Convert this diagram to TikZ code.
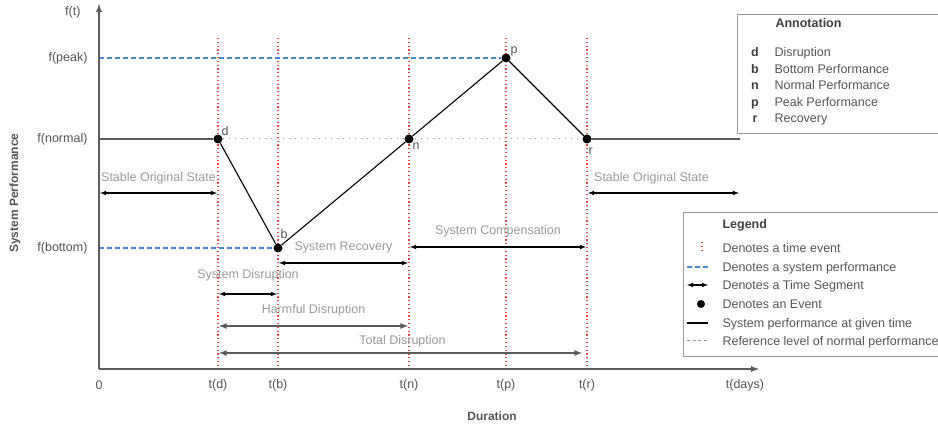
\documentclass[tikz,border=0pt]{standalone}
\usepackage{fontspec}
\setmainfont{Liberation Sans}
\usepackage{xcolor}
\usetikzlibrary{arrows,positioning,backgrounds}
\definecolor{AxisGray}{HTML}{5C5C5C}
\definecolor{TextGray}{HTML}{555555}
\definecolor{SegGray}{HTML}{9A9A9A}
\definecolor{EventRed}{HTML}{E5463E}
\definecolor{LevelBlue}{HTML}{4A86D8}
\tikzset{%
evnode/.style={circle, fill=black, inner sep=0pt, minimum size=9pt},
evletter/.style={text=TextGray, inner sep=1pt},
timeline/.style={draw=EventRed, line width=1.2pt, dash pattern=on 1.2pt off 2.6pt},
level/.style={draw=LevelBlue, line width=1.2pt, dash pattern=on 5pt off 3pt},
normref/.style={draw=gray!80, line width=1pt, dash pattern=on 1pt off 5pt},
perf/.style={draw=black, line width=1.1pt},
axisline/.style={draw=AxisGray, line width=1.8pt, ->, >=latex},
seg/.style={draw=black, line width=1.1pt, <->, >=latex, shorten >=1pt, shorten <=1pt},
seglong/.style={seg, draw=AxisGray, line width=1.6pt},
seglabel/.style={text=SegGray},
ticklabel/.style={text=TextGray},
ylabel/.style={text=TextGray, anchor=east},
boxline/.style={draw=gray!80, line width=1pt},
keyletter/.style={text=black!75, anchor=base, font=\fontsize{12.5}{15}\selectfont\bfseries},
keytext/.style={text=TextGray, anchor=base west}
}
\begin{document}
\begin{tikzpicture}[x=1pt, y=-1pt, font=\fontsize{12.5}{15}\selectfont]
	\useasboundingbox (0,0) rectangle (938,430);
	\coordinate (origin) at (99,369);
	\coordinate (ytop) at (99,4);
	\coordinate (xend) at (759,369);
	\coordinate (peakstart) at (99,58);
	\coordinate (normstart) at (99,139);
	\coordinate (normend) at (740,139);
	\coordinate (botstart) at (99,248);
	\coordinate (rightend) at (740,139);
	\node[evnode] (d) at (218,139) {};
	\node[evnode] (b) at (278,248) {};
	\node[evnode] (n) at (409,139) {};
	\node[evnode] (p) at (506,58) {};
	\node[evnode] (r) at (587,139) {};
	\node[evletter, above right=-1pt and -1pt of d] (dl) {d};
	\node[evletter, above right=5pt and -2pt of b] (bl) {b};
	\node[evletter, below right=-1pt and -1pt of n] (nl) {n};
	\node[evletter, above right=-3pt and 0pt of p] (pl) {p};
	\node[evletter, below right=4pt and -3pt of r] (rl) {r};
	\begin{scope}[on background layer]
		\foreach \ev in {d,b,n,p,r} {
			\coordinate (\ev top) at (\ev |- 0,38);
			\coordinate (\ev bot) at (\ev |- 0,366);
			\draw[timeline] (\ev top) -- (\ev bot);
			\node[ticklabel] (t\ev) at (\ev |- 0,385) {t(\ev)};
		}
		\draw[normref] (d) -- (r);
		\draw[level] (peakstart) -- (p);
		\draw[level] (botstart) -- (b);
		\draw[perf] (normstart) -- (d) -- (b) -- (n) -- (p) -- (r) -- (normend);
	\end{scope}
	\draw[axisline] (origin) -- (ytop);
	\draw[axisline] (origin) -- (xend);
	\node[ticklabel] (tzero) at (99,385) {0};
	\node[ticklabel] (tdays) at (745,385) {t(days)};
	\node[ylabel] (ft) at (84,12) {f(t)};
	\node[ylabel] (fpeak) at (91,58) {f(peak)};
	\node[ylabel] (fnormal) at (91,139) {f(normal)};
	\node[ylabel] (fbottom) at (91,248) {f(bottom)};
	\node[text=TextGray, font=\fontsize{12}{14}\selectfont\bfseries] (duration) at (492,416) {Duration};
	\node[text=TextGray, font=\fontsize{12}{14}\selectfont\bfseries, rotate=90] (sysperf) at (15,193) {System Performance};
	\coordinate (lvstable) at (0,193);
	\coordinate (lvcomp) at (0,247);
	\coordinate (lvrecov) at (0,263);
	\coordinate (lvdisr) at (0,294);
	\coordinate (lvharm) at (0,326);
	\coordinate (lvtotal) at (0,353);
	\draw[seg] (origin |- lvstable) -- node[seglabel, above=5pt] {Stable Original State} (d |- lvstable);
	\draw[seg] (r |- lvstable) -- node[seglabel, above=5pt, xshift=-12pt] {Stable Original State} (rightend |- lvstable);
	\draw[seg] (n |- lvcomp) -- node[seglabel, above=6pt] {System Compensation} (r |- lvcomp);
	\draw[seg] (b |- lvrecov) -- node[seglabel, above=6pt] {System Recovery} (n |- lvrecov);
	\draw[seg] (d |- lvdisr) -- node[seglabel, above=9pt] {System Disruption} (b |- lvdisr);
	\draw[seglong] (d |- lvharm) -- node[seglabel, above=6pt] {Harmful Disruption} (n |- lvharm);
	\draw[seglong, shorten >=5pt] (d |- lvtotal) -- node[seglabel, above=2pt] {Total Disruption} (r |- lvtotal);
	\draw[boxline] (938,15) -- (737,15) -- (737,134) -- (938,134);
	\node[keytext, font=\fontsize{12.5}{15}\selectfont\bfseries, text=black!75] (annotitle) at (772,28) {Annotation};
	\foreach \k/\lbl/\yy in {d/Disruption/52, b/Bottom Performance/69, n/Normal Performance/85, p/Peak Performance/102, r/Recovery/118} {
		\node[keyletter] (key\k) at (755,\yy+4.5) {\k};
		\node[keytext] (txt\k) at (771,\yy+4.5) {\lbl};
	}
	\draw[boxline] (938,213) -- (683,213) -- (683,357) -- (938,357);
	\node[keytext, font=\fontsize{12.5}{15}\selectfont\bfseries, text=black!75] (legtitle) at (719,228.5) {Legend};
	\coordinate (symA1) at (702,242); \coordinate (symA2) at (702,253);
	\coordinate (symB1) at (687,267); \coordinate (symB2) at (708,267);
	\coordinate (symC1) at (687,285); \coordinate (symC2) at (708,285);
	\coordinate (symE1) at (687,323); \coordinate (symE2) at (708,323);
	\coordinate (symF1) at (687,341); \coordinate (symF2) at (708,341);
	\draw[timeline] (symA1) -- (symA2);
	\draw[level] (symB1) -- (symB2);
	\draw[seg, shorten >=0pt, shorten <=0pt] (symC1) -- (symC2);
	\node[evnode, minimum size=8pt] (symD) at (701,304) {};
	\draw[perf] (symE1) -- (symE2);
	\draw[draw=gray!80, line width=1pt, dash pattern=on 3pt off 2.5pt] (symF1) -- (symF2);
	\node[keytext] (legA) at (719,252.5) {Denotes a time event};
	\node[keytext] (legB) at (719,271.5) {Denotes a system performance};
	\node[keytext] (legC) at (719,289.5) {Denotes a Time Segment};
	\node[keytext] (legD) at (719,308.5) {Denotes an Event};
	\node[keytext] (legE) at (719,327.5) {System performance at given time};
	\node[keytext] (legF) at (719,345.5) {Reference level of normal performance};
\end{tikzpicture}
\end{document}
